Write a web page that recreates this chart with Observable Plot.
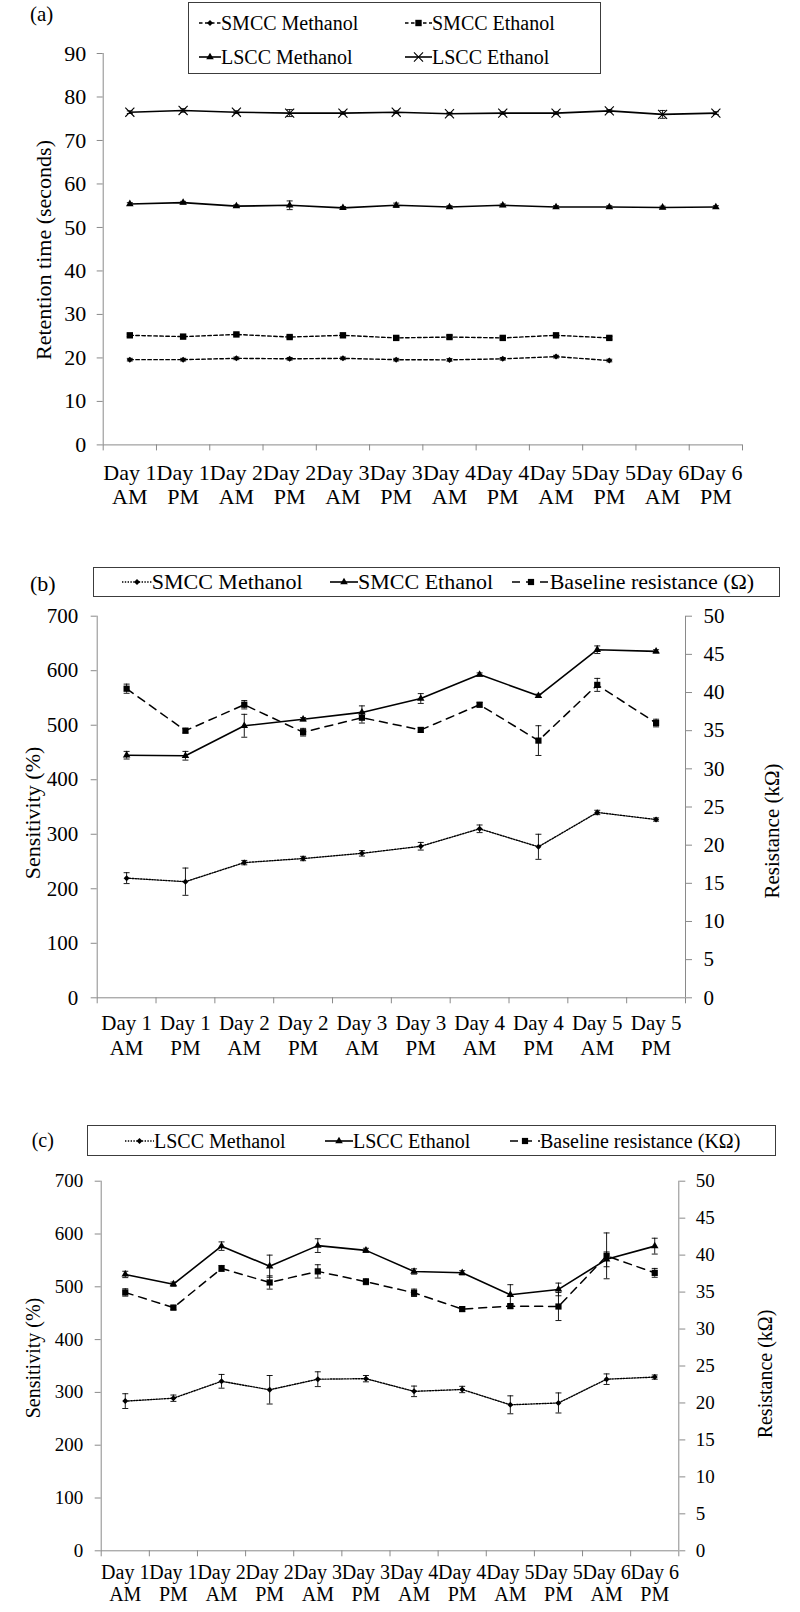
<!DOCTYPE html>
<html><head><meta charset="utf-8">
<script src="https://cdn.jsdelivr.net/npm/d3@7"></script>
<script src="https://cdn.jsdelivr.net/npm/@observablehq/plot@0.6"></script>
<style>
html,body{margin:0;padding:0;background:#fff;}
#fig{position:relative;width:800px;height:1612px;font-family:"Liberation Serif","Times New Roman",serif;color:#000;overflow:hidden;background:#fff;}
.abs{position:absolute;white-space:nowrap;line-height:1;}
.rot{transform:translate(-50%,-50%) rotate(-90deg);}
.legend{position:absolute;border:1px solid #3c3c3c;box-sizing:border-box;background:#fff;}
.item{position:absolute;display:flex;align-items:center;white-space:nowrap;line-height:1;transform:translateY(-50%);}
.panel{position:absolute;left:0;}
</style></head>
<body><div id="fig"></div>
<script>
// ---------------- DATA ----------------
const slotsA = ["Day 1\nAM","Day 1\nPM","Day 2\nAM","Day 2\nPM","Day 3\nAM","Day 3\nPM","Day 4\nAM","Day 4\nPM","Day 5\nAM","Day 5\nPM","Day 6\nAM","Day 6\nPM"];
const slotsB = ["Day 1\nAM","Day 1\nPM","Day 2\nAM","Day 2\nPM","Day 3\nAM","Day 3\nPM","Day 4\nAM","Day 4\nPM","Day 5\nAM","Day 5\nPM"];
const slotsC = slotsA;

// (a) retention time (seconds)
const retSmccMethanol    = [19.6, 19.6, 19.9, 19.8, 19.9, 19.6, 19.55, 19.8, 20.3, 19.4];
const retSmccMethanolErr = [0.3, 0.3, 0.3, 0.3, 0.3, 0.3, 0.3, 0.3, 0.3, 0.3];
const retSmccEthanol     = [25.2, 24.9, 25.4, 24.8, 25.2, 24.6, 24.8, 24.6, 25.2, 24.6];
const retSmccEthanolErr  = [0.3, 0.3, 0.3, 0.3, 0.3, 0.3, 0.3, 0.3, 0.3, 0.3];
const retLsccMethanol    = [55.4, 55.7, 54.9, 55.1, 54.5, 55.1, 54.7, 55.1, 54.7, 54.7, 54.6, 54.7];
const retLsccMethanolErr = [0.3, 0.3, 0.3, 1.0, 0.3, 0.5, 0.3, 0.3, 0.3, 0.3, 0.3, 0.3];
const retLsccEthanol     = [76.5, 76.9, 76.5, 76.3, 76.3, 76.5, 76.15, 76.3, 76.3, 76.8, 76.0, 76.3];
const retLsccEthanolErr  = [0.3, 0.4, 0.3, 0.8, 0.3, 0.3, 0.3, 0.3, 0.3, 0.3, 0.9, 0.3];

// (b) SMCC sensitivity (%) and baseline resistance (kOhm)
const smccSensMethanol    = [219.5, 213, 248, 255.5, 265, 278, 310, 277, 340, 327];
const smccSensMethanolErr = [10, 25, 4, 4, 5, 7, 7, 23, 4, 3];
const smccSensEthanol     = [445, 444, 499, 511, 523.5, 549, 593, 554, 638.5, 635.5];
const smccSensEthanolErr  = [7, 8, 21, 3, 12, 9, 3, 3, 7, 3];
const smccBaseline        = [40.5, 35.0, 38.4, 34.8, 36.7, 35.1, 38.4, 33.7, 41.0, 36.0];
const smccBaselineErr     = [0.6, 0.3, 0.55, 0.5, 0.7, 0.3, 0.3, 1.95, 0.85, 0.5];

// (c) LSCC sensitivity (%) and baseline resistance (kOhm)
const lsccSensMethanol    = [283.5, 289, 321, 305, 325, 326, 302, 305.5, 276.5, 280, 325, 329];
const lsccSensMethanolErr = [14, 6, 13, 27, 14, 6, 10, 6, 17, 19, 10, 4];
const lsccSensEthanol     = [523.4, 505, 577, 539, 578, 569, 529, 526.5, 485, 495, 552, 577];
const lsccSensEthanolErr  = [6, 4, 8, 21, 13, 4, 5, 4, 19, 12, 14, 15];
const lsccBaseline        = [34.95, 32.9, 38.2, 36.3, 37.8, 36.4, 34.9, 32.7, 33.1, 33.05, 39.9, 37.6];
const lsccBaselineErr     = [0.5, 0.3, 0.4, 0.9, 0.9, 0.4, 0.5, 0.3, 0.3, 1.9, 3.1, 0.6];

// ---------------- STYLES ----------------
const FONT = '"Liberation Serif","Times New Roman",serif';
const GRAY = "#8a8a8a";
const INK = "#000";
const ST = {
  dashDiamond:  {symbol: "diamond2", r: 2.7, dash: "3.5,2.5", width: 1.4},
  dashSquare:   {symbol: "square",   r: 3.6, dash: "3.5,2.5", width: 1.4},
  solidTri:     {symbol: "triangle", r: 2.8, dash: null,      width: 1.6},
  solidTimes:   {symbol: "times",    r: 4.2, dash: null,      width: 1.6},
  dotDiamond:   {symbol: "diamond2", r: 2.7, dash: "1.4,1.4", width: 1.4},
  longDashSq:   {symbol: "square",   r: 3.5, dash: "8,6",     width: 1.5}
};
const D3SYM = {diamond2: d3.symbolDiamond2, square: d3.symbolSquare, triangle: d3.symbolTriangle, times: d3.symbolTimes};
const cap = {draw(ctx) { ctx.moveTo(-3, 0); ctx.lineTo(3, 0); }};

function makePanel(cfg) {
  const {n, labels, series, yMax, yStep, rightMax, rightStep, height, margin, fontSize, xFontSize, yPad, rPad, xPad, lineHeight} = cfg;
  const k = rightMax ? yMax / rightMax : 1;
  const marks = [
    Plot.ruleY([0], {stroke: GRAY}),
    Plot.ruleX([0], {stroke: GRAY}),
    Plot.axisX({ticks: d3.range(n + 1), tickSize: 6, tickFormat: () => "", stroke: GRAY, label: null}),
    Plot.axisX({ticks: d3.range(n).map(i => i + 0.5), tickSize: 0, tickPadding: xPad, tickFormat: t => labels[Math.floor(t)], fill: INK, lineHeight, fontSize: xFontSize || fontSize, label: null}),
    Plot.axisY({ticks: d3.range(0, yMax + 1e-9, yStep), tickSize: 6, tickPadding: yPad, stroke: GRAY, fill: INK, label: null})
  ];
  if (rightMax) {
    marks.push(Plot.ruleX([n], {stroke: GRAY}));
    marks.push(Plot.axisY({anchor: "right", ticks: d3.range(0, rightMax + 1e-9, rightStep).map(v => v * k), tickFormat: v => Math.round(v / k), tickSize: 6, tickPadding: rPad, stroke: GRAY, fill: INK, label: null}));
  }
  for (const s of series) {
    const st = s.style;
    const f = s.axis === "right" ? k : 1;
    const rows = s.values.map((v, i) => ({x: i + 0.5, y: v * f, lo: (v - s.err[i]) * f, hi: (v + s.err[i]) * f}));
    marks.push(Plot.line(rows, {x: "x", y: "y", stroke: INK, strokeWidth: st.width, strokeDasharray: st.dash}));
    marks.push(Plot.ruleX(rows, {x: "x", y1: "lo", y2: "hi", stroke: INK, strokeWidth: 0.9}));
    marks.push(Plot.dot(rows, {x: "x", y: "lo", symbol: cap, r: 3, stroke: INK, fill: "none", strokeWidth: 0.9}));
    marks.push(Plot.dot(rows, {x: "x", y: "hi", symbol: cap, r: 3, stroke: INK, fill: "none", strokeWidth: 0.9}));
    const markerStyle = st.symbol === "times" ? {stroke: INK, strokeWidth: 1.1, fill: "none"} : {fill: INK, stroke: "none"};
    marks.push(Plot.dot(rows, {x: "x", y: "y", symbol: st.symbol, r: st.r, ...markerStyle}));
  }
  return Plot.plot({
    width: 800, height,
    marginTop: margin[0], marginRight: margin[1], marginBottom: margin[2], marginLeft: margin[3],
    x: {type: "linear", domain: [0, n], label: null},
    y: {type: "linear", domain: [0, yMax], label: null},
    style: {fontFamily: FONT, fontSize: fontSize + "px", color: "#000", background: "transparent", overflow: "visible"},
    marks
  });
}

const fig = document.getElementById("fig");
function place(node, top) { const d = document.createElement("div"); d.className = "panel"; d.style.top = top + "px"; d.appendChild(node); fig.appendChild(d); }
function text(str, x, y, size, rotate) {
  const d = document.createElement("div");
  d.className = "abs" + (rotate ? " rot" : "");
  d.textContent = str; d.style.fontSize = size + "px";
  d.style.left = x + "px"; d.style.top = y + "px";
  if (!rotate) d.style.transform = "translateY(-50%)";
  fig.appendChild(d);
}
function swatch(w, st) {
  const h = 20;
  const svg = d3.create("svg").attr("width", w).attr("height", h).style("display", "block").style("overflow", "visible");
  svg.append("line").attr("x1", 0).attr("x2", w).attr("y1", h / 2).attr("y2", h / 2)
    .attr("stroke", INK).attr("stroke-width", st.width).attr("stroke-dasharray", st.dash);
  const p = svg.append("path").attr("d", d3.symbol(D3SYM[st.symbol], Math.PI * st.r * st.r)()).attr("transform", `translate(${w / 2},${h / 2})`);
  if (st.symbol === "times") p.attr("fill", "none").attr("stroke", INK).attr("stroke-width", 1.1);
  else p.attr("fill", INK);
  return svg.node();
}
function legend(box, items, size) {
  const b = document.createElement("div");
  b.className = "legend";
  Object.assign(b.style, {left: box[0] + "px", top: box[1] + "px", width: box[2] + "px", height: box[3] + "px"});
  fig.appendChild(b);
  for (const it of items) {
    const d = document.createElement("div");
    d.className = "item";
    d.style.left = it.x + "px"; d.style.top = it.y + "px"; d.style.fontSize = size + "px";
    d.appendChild(swatch(it.w, it.style));
    const t = document.createElement("span"); t.textContent = it.label; d.appendChild(t);
    fig.appendChild(d);
  }
}

// ---------------- PANEL (a) ----------------
place(makePanel({
  n: slotsA.length, labels: slotsA, yMax: 90, yStep: 10,
  height: 540, margin: [53, 58, 95.6, 102.7], fontSize: 22, yPad: 11, xPad: 18, lineHeight: 1.09,
  series: [
    {values: retSmccMethanol, err: retSmccMethanolErr, style: ST.dashDiamond},
    {values: retSmccEthanol, err: retSmccEthanolErr, style: ST.dashSquare},
    {values: retLsccMethanol, err: retLsccMethanolErr, style: ST.solidTri},
    {values: retLsccEthanol, err: retLsccEthanolErr, style: ST.solidTimes}
  ]
}), 0);
text("(a)", 30, 14, 21);
text("Retention time (seconds)", 44, 250, 22, true);
legend([188, 2, 413, 72], [
  {x: 199, y: 23, w: 22, style: ST.dashDiamond, label: "SMCC Methanol"},
  {x: 405, y: 23, w: 27, style: ST.dashSquare, label: "SMCC Ethanol"},
  {x: 199, y: 57, w: 22, style: ST.solidTri, label: "LSCC Methanol"},
  {x: 405, y: 57, w: 27, style: ST.solidTimes, label: "LSCC Ethanol"}
], 20);

// ---------------- PANEL (b) ----------------
place(makePanel({
  n: slotsB.length, labels: slotsB, yMax: 700, yStep: 100, rightMax: 50, rightStep: 5,
  height: 530, margin: [75.7, 115, 72.7, 96.7], fontSize: 21, yPad: 13, rPad: 12, xPad: 14.5, lineHeight: 1.19,
  series: [
    {values: smccSensMethanol, err: smccSensMethanolErr, style: ST.dotDiamond},
    {values: smccSensEthanol, err: smccSensEthanolErr, style: ST.solidTri},
    {values: smccBaseline, err: smccBaselineErr, style: ST.longDashSq, axis: "right"}
  ]
}), 540);
text("(b)", 30, 584, 22);
text("Sensitivity (%)", 33, 813, 22, true);
text("Resistance (kΩ)", 772, 831, 21, true);
legend([93, 567, 687, 30], [
  {x: 121.7, y: 581.7, w: 30, style: ST.dotDiamond, label: "SMCC Methanol"},
  {x: 330, y: 581.7, w: 28, style: ST.solidTri, label: "SMCC Ethanol"},
  {x: 511.7, y: 581.7, w: 38, style: ST.longDashSq, label: "Baseline resistance (Ω)"}
], 22);

// ---------------- PANEL (c) ----------------
place(makePanel({
  n: slotsC.length, labels: slotsC, yMax: 700, yStep: 100, rightMax: 50, rightStep: 5,
  height: 542, margin: [110.7, 121.7, 61.7, 100.7], fontSize: 19, xFontSize: 20, yPad: 12, rPad: 11, xPad: 13, lineHeight: 1.1,
  series: [
    {values: lsccSensMethanol, err: lsccSensMethanolErr, style: ST.dotDiamond},
    {values: lsccSensEthanol, err: lsccSensEthanolErr, style: ST.solidTri},
    {values: lsccBaseline, err: lsccBaselineErr, style: ST.longDashSq, axis: "right"}
  ]
}), 1070);
text("(c)", 31.7, 1140, 20);
text("Sensitivity  (%)", 33, 1358, 20, true);
text("Resistance (kΩ)", 765, 1374, 20, true);
legend([87, 1125, 688.7, 30.7], [
  {x: 125, y: 1140.7, w: 29, style: ST.dotDiamond, label: "LSCC Methanol"},
  {x: 325, y: 1140.7, w: 28, style: ST.solidTri, label: "LSCC Ethanol"},
  {x: 510, y: 1140.7, w: 30, style: ST.longDashSq, label: "Baseline  resistance (KΩ)"}
], 20);
</script>
</body></html>
